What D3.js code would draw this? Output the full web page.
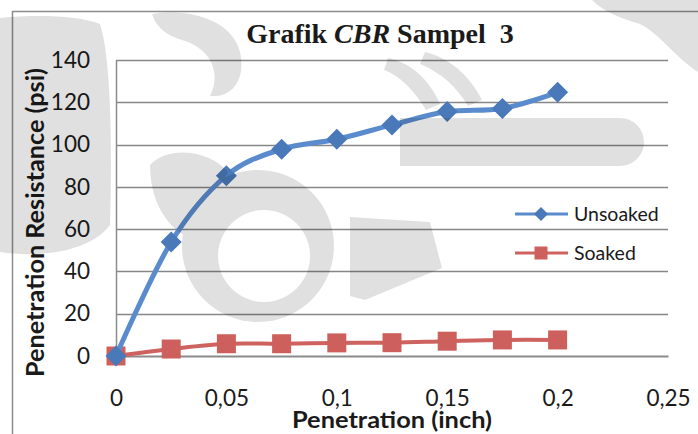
<!DOCTYPE html>
<html>
<head>
<meta charset="utf-8">
<script src="https://cdn.jsdelivr.net/npm/d3@7"></script>
<style>
  html, body { margin: 0; padding: 0; background: #fff; }
  svg { display: block; }
  text { fill: #1a1a1a; }
</style>
</head>
<body>
<svg id="chart" width="698" height="434"></svg>
<script>
// Penetration readings (inch) and CBR resistance (psi)
const penetration = [0, 0.025, 0.05, 0.075, 0.1, 0.125, 0.15, 0.175, 0.2];
const unsoaked = [0, 53.9, 85.3, 97.8, 102.5, 109.3, 115.6, 117.1, 124.7];
const soaked = [0, 3.3, 5.8, 5.8, 6.2, 6.3, 7.0, 7.6, 7.6];
const xTicks = [0, 0.05, 0.1, 0.15, 0.2, 0.25];
const yTicks = [0, 20, 40, 60, 80, 100, 120, 140];
const seriesNames = ["Unsoaked", "Soaked"];

const W = 698, H = 434;
const plot = { left: 116, right: 668, top: 60, bottom: 356 };

const svg = d3.select("#chart");

const x = d3.scaleLinear().domain([0, 0.25]).range([plot.left, plot.right]);
const y = d3.scaleLinear().domain([0, 140]).range([plot.bottom, plot.top]);

const fmt = v => String(v).replace(".", ",");

// outer chart frame (left and top edges)
svg.append("path")
  .attr("d", `M12.5,${H} L12.5,11.5 L${W},11.5`)
  .attr("fill", "none").attr("stroke", "#8c8c8c").attr("stroke-width", 1.5);

// horizontal gridlines
svg.append("g").selectAll("line").data(yTicks.filter(d => d > 0)).join("line")
  .attr("x1", plot.left).attr("x2", plot.right)
  .attr("y1", d => Math.round(y(d)) + 0.5).attr("y2", d => Math.round(y(d)) + 0.5)
  .attr("stroke", "#878787").attr("stroke-width", 1.3);

// axes
const tickFont = "Lato, sans-serif";
const yAxis = d3.axisLeft(y).tickValues(yTicks).tickSize(0).tickPadding(26).tickFormat(fmt);
const gy = svg.append("g").attr("transform", `translate(${plot.left},0)`).call(yAxis);
gy.select(".domain").attr("stroke", "#8c8c8c").attr("stroke-width", 1.5);
gy.selectAll("text").attr("font-family", tickFont).attr("font-size", 22.5).attr("fill", "#1a1a1a");

const xAxis = d3.axisBottom(x).tickValues(xTicks).tickSize(0).tickPadding(34).tickFormat(fmt);
const gx = svg.append("g").attr("transform", `translate(0,${plot.bottom})`).call(xAxis);
gx.select(".domain").attr("stroke", "#8a8a8a").attr("stroke-width", 2.2);
gx.selectAll("text").attr("font-family", tickFont).attr("font-size", 22.5).attr("fill", "#1a1a1a");

// series lines
const series = [
  { name: seriesNames[0], values: unsoaked, line: "#5a8bcd", mark: "#4a79b9", shape: "diamond", width: 5 },
  { name: seriesNames[1], values: soaked, line: "#cd625e", mark: "#cd605c", shape: "square", width: 4 }
];

const lineGen = d3.line()
  .x(d => x(d[0])).y(d => y(d[1]))
  .curve(d3.curveCardinal.tension(0));

function markerPath(shape, r) {
  if (shape === "diamond") return `M0,${-r} L${r},0 L0,${r} L${-r},0 Z`;
  return `M${-r},${-r} H${r} V${r} H${-r} Z`;
}

series.slice().reverse().forEach(s => {
  const pts = penetration.map((p, i) => [p, s.values[i]]);
  svg.append("path").datum(pts)
    .attr("d", lineGen)
    .attr("fill", "none").attr("stroke", s.line).attr("stroke-width", s.width)
    .attr("stroke-linejoin", "round");
  svg.append("g").selectAll("path").data(pts).join("path")
    .attr("transform", d => `translate(${x(d[0])},${y(d[1])})`)
    .attr("d", markerPath(s.shape, s.shape === "diamond" ? 10.5 : 9.5))
    .attr("fill", s.mark);
});

// legend
const legend = svg.append("g");
series.forEach((s, i) => {
  const ly = 214 + i * 39;
  legend.append("line").attr("x1", 515).attr("x2", 568).attr("y1", ly).attr("y2", ly)
    .attr("stroke", s.line).attr("stroke-width", 3);
  legend.append("path").attr("transform", `translate(541,${ly})`)
    .attr("d", markerPath(s.shape, s.shape === "diamond" ? 7 : 6.5))
    .attr("fill", s.mark);
  legend.append("text").attr("x", 574).attr("y", ly).attr("dy", "0.35em")
    .attr("font-family", tickFont).attr("font-size", 19.5)
    .text(s.name);
});

// title
const title = svg.append("text")
  .attr("x", 380).attr("y", 43).attr("text-anchor", "middle")
  .attr("font-family", "'Liberation Serif', 'Times New Roman', serif")
  .attr("font-weight", "bold").attr("font-size", 28)
  .attr("xml:space", "preserve").style("white-space", "pre");
title.append("tspan").text("Grafik ");
title.append("tspan").attr("font-style", "italic").text("CBR");
title.append("tspan").text(" Sampel  3");

// axis titles
svg.append("text")
  .attr("x", 392).attr("y", 428).attr("text-anchor", "middle")
  .attr("font-family", tickFont).attr("font-weight", "bold").attr("font-size", 23)
  .attr("textLength", 200).attr("lengthAdjust", "spacingAndGlyphs")
  .text("Penetration (inch)");

svg.append("text")
  .attr("transform", "translate(44,222.5) rotate(-90)")
  .attr("text-anchor", "middle")
  .attr("font-family", tickFont).attr("font-weight", "bold").attr("font-size", 24)
  .attr("textLength", 309).attr("lengthAdjust", "spacingAndGlyphs")
  .text("Penetration Resistance (psi)");

// faint page watermark laid over the figure, as one shape so overlaps stay even
const wmParts = [
  // left column behind the value axis
  "M0,18 C40,14 80,16 100,24 C112,60 112,160 110,225 C90,252 40,258 0,252 Z",
  // ring with its hollow (hollow wound the opposite way)
  "M258,170 A76,76 0 1,1 257.9,170 Z M264,210 A46,46 0 1,0 264.1,210 Z",
  // mass extending left from the ring
  "M150,165 C168,145 210,150 228,172 C214,198 196,222 186,236 C166,226 150,200 150,165 Z",
  // hooked shape under the title
  "M152,14 C190,8 232,20 240,52 C246,80 232,98 210,96 C222,72 210,48 182,40 C168,36 156,28 152,14 Z",
  // claw strokes above the curve
  "M388,58 C410,62 430,80 440,104 L426,110 C414,90 400,76 384,70 Z",
  "M425,52 C450,58 470,76 482,100 L468,106 C456,86 440,72 420,64 Z",
  // horizontal band on the right
  "M400,118 L620,118 A24,24 0 0,1 620,166 L400,166 Z",
  // hook at the top right
  "M592,0 L698,0 L698,72 C676,58 660,34 640,24 C620,18 604,12 592,0 Z",
  // arrow point below the legend
  "M350,217 L430,222 L442,268 L365,300 L350,296 Z"
];
svg.append("path")
  .attr("d", wmParts.join(" "))
  .attr("fill", "#000").attr("fill-opacity", 0.12).attr("fill-rule", "nonzero")
  .style("pointer-events", "none");
</script>
</body>
</html>
